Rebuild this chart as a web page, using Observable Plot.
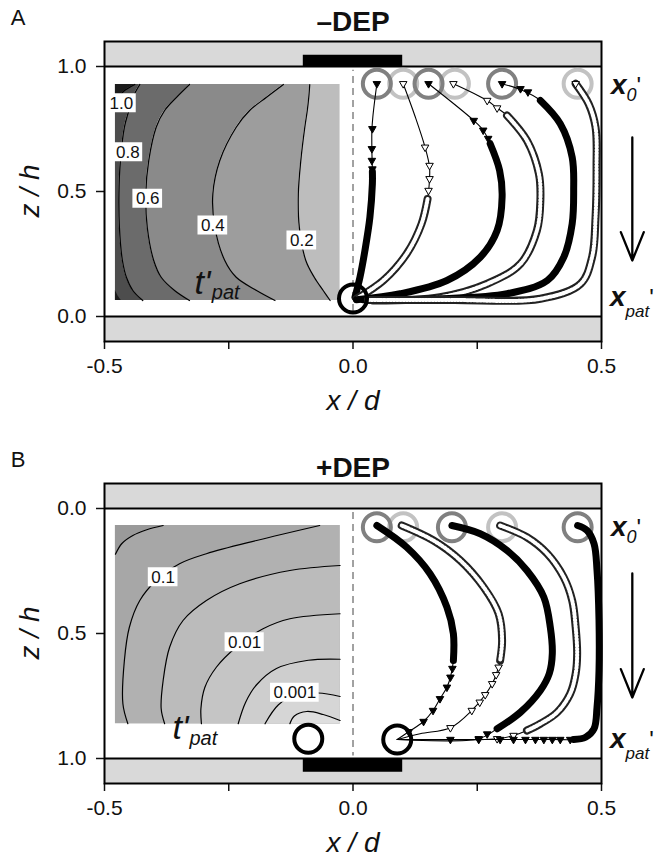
<!DOCTYPE html>
<html><head><meta charset="utf-8">
<script src="https://cdn.jsdelivr.net/npm/d3@7"></script>
<script src="https://cdn.jsdelivr.net/npm/@observablehq/plot@0.6"></script>
<style>
body{margin:0;background:#fff;font-family:"Liberation Sans",Arial,sans-serif;}
#page{position:relative;width:661px;height:859px;overflow:hidden;background:#fff;}
.lbl{position:absolute;line-height:1;white-space:nowrap;color:#111;z-index:5;}
</style></head><body><div id="page"></div>
<script>
// ===== axes =====
const xTicks = [-0.5, -0.25, 0, 0.25, 0.5];
const xTickLabels = ["-0.5", "", "0.0", "", "0.5"];
const zTicks = [0, 0.5, 1.0];
const zTickLabels = ["0.0", "0.5", "1.0"];
const wallZ = [[-0.1, 0], [1.0, 1.1]];
const wallLines = [0, 1];
const electrodeX = [-0.1, 0.1];
const electrodeZA = [1.0, 1.045];
const electrodeZB = [1.0, 1.055];

// ===== Panel A (−DEP): t'pat contour inset =====
const insetAX = [-0.478, -0.026];
const aRowsZ = [0.928, 0.877, 0.824, 0.757, 0.624, 0.491, 0.357, 0.224, 0.157, 0.104, 0.064];
const aC08 = [-0.429, -0.443, -0.451, -0.460, -0.468, -0.471, -0.470, -0.464, -0.456, -0.443, -0.423];
const aC06 = [-0.329, -0.355, -0.379, -0.396, -0.411, -0.417, -0.414, -0.401, -0.386, -0.359, -0.329];
const aC04 = [-0.140, -0.174, -0.208, -0.235, -0.268, -0.282, -0.278, -0.258, -0.235, -0.194, -0.157];
const aC02 = [-0.087, -0.089, -0.092, -0.097, -0.105, -0.110, -0.108, -0.095, -0.078, -0.060, -0.046];
const aC10Top = [[-0.439, 0.928], [-0.462, 0.900], [-0.474, 0.870], [-0.478, 0.850]];
const aC10Bot = [[-0.478, 0.104], [-0.472, 0.080], [-0.466, 0.064]];
const aLabelText = ["1.0", "0.8", "0.6", "0.4", "0.2"];
const aLabelX = [-0.466, -0.453, -0.413, -0.282, -0.103];
const aLabelZ = [0.853, 0.657, 0.471, 0.364, 0.304];
const aTpat = [-0.319, 0.092];
const aPat = [-0.284, 0.072];

// ===== Panel A trajectories: [x, z, dense] =====
const a1 = [[0.048,0.931,0],[0.040,0.80,0],[0.038,0.744,0],[0.038,0.664,0],[0.039,0.580,1],[0.039,0.531,1],[0.034,0.397,1],[0.024,0.264,1],[0.014,0.157,1],[0.004,0.077,1]];
const a2 = [[0.101,0.931,0],[0.125,0.80,0],[0.145,0.677,0],[0.154,0.597,0],[0.153,0.52,0],[0.150,0.47,1],[0.138,0.371,1],[0.108,0.251,1],[0.061,0.144,1],[0.007,0.071,1]];
const a3 = [[0.152,0.931,0],[0.243,0.784,0],[0.262,0.745,0],[0.276,0.691,1],[0.295,0.584,1],[0.300,0.477,1],[0.290,0.344,1],[0.256,0.237,1],[0.189,0.144,1],[0.095,0.091,1],[0.007,0.067,1]];
const a4 = [[0.202,0.931,0],[0.270,0.864,0],[0.290,0.834,0],[0.310,0.804,1],[0.350,0.704,1],[0.374,0.571,1],[0.377,0.464,1],[0.370,0.344,1],[0.337,0.211,1],[0.270,0.131,1],[0.175,0.077,1],[0.040,0.064,1]];
const a5 = [[0.300,0.931,0],[0.340,0.905,0],[0.377,0.864,1],[0.417,0.771,1],[0.441,0.637,1],[0.444,0.504,1],[0.441,0.371,1],[0.424,0.237,1],[0.391,0.144,1],[0.310,0.091,1],[0.175,0.071,1],[0.020,0.067,1]];
const a6 = [[0.448,0.931,1],[0.474,0.851,1],[0.488,0.757,1],[0.490,0.597,1],[0.488,0.397,1],[0.481,0.237,1],[0.458,0.131,1],[0.377,0.071,1],[0.200,0.066,1],[0.030,0.066,1]];
const a1m = [[0.048,0.931],[0.039,0.751],[0.038,0.671],[0.038,0.624],[0.039,0.590]];
const a2m = [[0.101,0.931],[0.145,0.677],[0.154,0.604],[0.154,0.551],[0.152,0.504]];
const a3m = [[0.152,0.931],[0.243,0.784],[0.262,0.745],[0.272,0.712]];
const a4m = [[0.202,0.931],[0.270,0.864],[0.290,0.834]];
const a5m = [[0.300,0.931],[0.337,0.911],[0.352,0.898]];
const a6m = [[0.448,0.931]];
const aOpen = [false, true, false, true, false, true];
const aStartDark = [0.048, 0.152, 0.300];
const aStartLight = [0.101, 0.205, 0.452];
const aStartZ = 0.931;
const aEnd = [[0.0, 0.072]];
const aArrow = [[0.562, 0.716, 0.224]];

// ===== Panel B (+DEP): t'pat contour inset (log levels) =====
const insetBX = [-0.478, -0.026];
const insetBZ = [0.068, 0.861];
const bC1 = [[-0.382,0.068],[-0.415,0.085],[-0.443,0.108],[-0.465,0.140],[-0.478,0.183]];
const bC2 = [[-0.067,0.068],[-0.194,0.128],[-0.295,0.181],[-0.349,0.221],[-0.396,0.288],[-0.429,0.368],[-0.450,0.475],[-0.460,0.608],[-0.463,0.781],[-0.453,0.861]];
const bC3 = [[-0.026,0.228],[-0.127,0.248],[-0.228,0.301],[-0.295,0.368],[-0.342,0.448],[-0.369,0.555],[-0.382,0.688],[-0.386,0.800],[-0.379,0.861]];
const bC4 = [[-0.026,0.421],[-0.127,0.441],[-0.181,0.481],[-0.235,0.555],[-0.275,0.635],[-0.298,0.715],[-0.306,0.800],[-0.305,0.861]];
const bC5 = [[-0.026,0.603],[-0.090,0.607],[-0.154,0.640],[-0.194,0.705],[-0.216,0.775],[-0.231,0.861]];
const bC6 = [[-0.026,0.752],[-0.070,0.738],[-0.115,0.745],[-0.150,0.785],[-0.177,0.861]];
const bC7 = [[-0.026,0.848],[-0.060,0.824],[-0.093,0.812],[-0.118,0.830],[-0.127,0.861]];
const bLabelText = ["0.1", "0.01", "0.001"];
const bLabelX = [-0.382, -0.218, -0.117];
const bLabelZ = [0.275, 0.535, 0.737];
const bTpat = [-0.363, 0.920];
const bPat = [-0.329, 0.944];

// ===== Panel B trajectories =====
const b1 = [[0.048,0.068,1],[0.108,0.155,1],[0.155,0.261,1],[0.189,0.395,1],[0.202,0.501,1],[0.202,0.608,1],[0.196,0.675,0],[0.189,0.715,0],[0.175,0.761,0],[0.161,0.808,0],[0.142,0.852,0],[0.112,0.893,0],[0.089,0.924,0]];
const b2 = [[0.098,0.068,1],[0.162,0.128,1],[0.216,0.208,1],[0.263,0.315,1],[0.293,0.421,1],[0.300,0.528,1],[0.296,0.608,1],[0.288,0.665,0],[0.280,0.701,0],[0.266,0.745,0],[0.239,0.808,0],[0.196,0.877,0],[0.135,0.901,0],[0.089,0.924,0]];
const b3 = [[0.199,0.068,1],[0.256,0.101,1],[0.310,0.168,1],[0.350,0.248,1],[0.384,0.355,1],[0.397,0.475,1],[0.401,0.581,1],[0.395,0.660,1],[0.377,0.728,1],[0.337,0.815,1],[0.290,0.881,1],[0.253,0.921,0],[0.089,0.924,0]];
const b4 = [[0.296,0.068,1],[0.350,0.115,1],[0.391,0.181,1],[0.424,0.275,1],[0.441,0.368,1],[0.448,0.475,1],[0.451,0.581,1],[0.448,0.661,1],[0.437,0.741,1],[0.411,0.815,1],[0.377,0.861,1],[0.350,0.888,1],[0.323,0.908,0],[0.290,0.921,0],[0.089,0.924,0]];
const b5 = [[0.452,0.068,1],[0.471,0.088,1],[0.485,0.141,1],[0.491,0.248,1],[0.495,0.448,1],[0.495,0.648,1],[0.491,0.795,1],[0.485,0.881,1],[0.468,0.915,1],[0.444,0.924,1],[0.401,0.924,0],[0.089,0.924,0]];
const b1m = [[0.200,0.640],[0.196,0.675],[0.189,0.715],[0.175,0.761],[0.161,0.808],[0.142,0.852],[0.112,0.893]];
const b2m = [[0.293,0.635],[0.288,0.665],[0.280,0.701],[0.266,0.745],[0.255,0.775],[0.239,0.808],[0.196,0.877]];
const b3m = [[0.270,0.902],[0.253,0.921]];
const b4m = [[0.323,0.908],[0.290,0.921]];
const b5m = [[0.437,0.924],[0.417,0.924],[0.401,0.924],[0.384,0.924],[0.367,0.924],[0.347,0.924],[0.323,0.924],[0.296,0.924],[0.253,0.924],[0.196,0.924]];
const bOpen = [false, true, false, true, false];
const bStartDark = [0.048, 0.199, 0.452];
const bStartLight = [0.101, 0.300];
const bStartZ = 0.075;
const bEnd = [[-0.090, 0.921], [0.089, 0.924]];
const bArrow = [[0.562, 0.26, 0.756]];

// ===== styling constants =====
const CURVE = "catmull-rom";
const LABEL_FS = 17;
const aGrays = ["#4d4d4d", "#6b6b6b", "#8a8a8a", "#9d9d9d", "#bdbdbd"];
const bGrays = ["#a7a7a7", "#9a9a9a", "#b1b1b1", "#bbbbbb", "#c5c5c5", "#cecece", "#d6d6d6", "#dedede"];
const px = p => p[0], pz = p => p[1];
const triDown = {draw(ctx, size) { const a = Math.sqrt(size) * 1.25; ctx.moveTo(-a/2, -a*0.29); ctx.lineTo(a/2, -a*0.29); ctx.lineTo(0, a*0.58); ctx.closePath(); }};
function halfW(s) { const digits = s.replace(/\./g, "").length; const dots = s.length - digits; return ((digits*0.556 + dots*0.278)*LABEL_FS + 6) / 2 / 496; }
const HH = 9.5 / 250;

function frameMarks(electrodeZ) {
  return [
    Plot.rect(wallZ, {x1: () => -0.5, x2: () => 0.5, y1: d => d[0], y2: d => d[1], fill: "#d9d9d9"}),
    Plot.rect([electrodeZ], {x1: () => electrodeX[0], x2: () => electrodeX[1], y1: d => d[0], y2: d => d[1], fill: "black"}),
    Plot.ruleY(wallLines, {y: d => d, x1: () => -0.5, x2: () => 0.5, stroke: "black", strokeWidth: 2})
  ];
}
function labelMarks(texts, xs, zs) {
  const L = texts.map((t, i) => ({t, x: xs[i], z: zs[i]}));
  return [
    Plot.rect(L, {x1: d => d.x - halfW(d.t), x2: d => d.x + halfW(d.t), y1: d => d.z - HH, y2: d => d.z + HH, fill: "white"}),
    Plot.text(L, {x: "x", y: "z", text: "t", fontSize: LABEL_FS, fill: "#111"})
  ];
}
function tpatMarks(t, p) {
  return [
    Plot.text([t], {x: px, y: pz, text: () => "t'", fontSize: 34, fontStyle: "italic", textAnchor: "start", lineAnchor: "bottom", fill: "#111"}),
    Plot.text([p], {x: px, y: pz, text: () => "pat", fontSize: 20, fontStyle: "italic", textAnchor: "start", lineAnchor: "bottom", fill: "#111"})
  ];
}
function trajMarks(trajs, marksList, openFlags) {
  const out = [];
  trajs.forEach((t, i) => {
    const open = openFlags[i];
    out.push(Plot.line(t, {x: px, y: pz, stroke: "black", strokeWidth: 1.1, curve: CURVE}));
    const dense = t.filter(p => p[2] === 1);
    if (dense.length > 1) {
      if (open) {
        out.push(Plot.line(dense, {x: px, y: pz, stroke: "#222", strokeWidth: 8, curve: CURVE}));
        out.push(Plot.line(dense, {x: px, y: pz, stroke: "white", strokeWidth: 4, strokeDasharray: "1.6,1.6", curve: CURVE}));
      } else {
        out.push(Plot.line(dense, {x: px, y: pz, stroke: "black", strokeWidth: 7, curve: CURVE}));
      }
    }
    out.push(Plot.dot(marksList[i], {x: px, y: pz, symbol: triDown, r: 3.4, fill: open ? "white" : "black", stroke: "black", strokeWidth: 1}));
  });
  return out;
}
function circleMarks(light, dark, z) {
  return [
    Plot.dot(light, {x: d => d, y: () => z, r: 14, stroke: "#c2c2c2", strokeWidth: 4, fill: "none"}),
    Plot.dot(dark, {x: d => d, y: () => z, r: 14, stroke: "#808080", strokeWidth: 4, fill: "none"})
  ];
}
function axisMarks() {
  return [
    Plot.axisX({ticks: xTicks, tickFormat: d => xTickLabels[xTicks.indexOf(d)], tickSize: 8, tickPadding: 9, fontSize: 21, label: null, strokeWidth: 1.5}),
    Plot.axisY({ticks: zTicks, tickFormat: d => zTickLabels[zTicks.indexOf(d)], tickSize: 8, tickPadding: 10, fontSize: 21, label: null, strokeWidth: 1.5}),
    Plot.frame({stroke: "black", strokeWidth: 2})
  ];
}
function makePlot(marks, reverse) {
  return Plot.plot({
    width: 661, height: 380,
    marginTop: 41, marginBottom: 39, marginLeft: 104, marginRight: 60,
    x: {domain: [-0.5, 0.5]},
    y: {domain: [-0.1, 1.1], reverse},
    style: {fontFamily: '"Liberation Sans", Arial, sans-serif', background: "transparent", overflow: "visible", color: "#111"},
    marks
  });
}

// ----- Panel A marks -----
const aRows = aRowsZ.map((z, i) => ({z, c08: aC08[i], c06: aC06[i], c04: aC04[i], c02: aC02[i]}));
const aBounds = [d => insetAX[0], "c08", "c06", "c04", "c02", d => insetAX[1]];
const aMarks = [
  ...frameMarks(electrodeZA),
  ...aGrays.map((g, i) => Plot.areaX(aRows, {y: "z", x1: aBounds[i], x2: aBounds[i+1], fill: g, curve: CURVE})),
  Plot.areaX(aC10Top, {y: pz, x1: () => insetAX[0], x2: px, fill: "#1c1c1c", curve: CURVE}),
  Plot.areaX(aC10Bot, {y: pz, x1: () => insetAX[0], x2: px, fill: "#1c1c1c", curve: CURVE}),
  ...["c08", "c06", "c04", "c02"].map(c => Plot.line(aRows, {x: c, y: "z", stroke: "black", strokeWidth: 1.2, curve: CURVE})),
  Plot.line(aC10Top, {x: px, y: pz, stroke: "black", strokeWidth: 1.2, curve: CURVE}),
  ...labelMarks(aLabelText, aLabelX, aLabelZ),
  ...tpatMarks(aTpat, aPat),
  Plot.ruleX([0], {y1: () => 0.02, y2: () => 0.985, stroke: "#444", strokeDasharray: "7,5", strokeWidth: 1}),
  ...circleMarks(aStartLight, aStartDark, aStartZ),
  ...trajMarks([a1, a2, a3, a4, a5, a6], [a1m, a2m, a3m, a4m, a5m, a6m], aOpen),
  Plot.dot(aEnd, {x: px, y: pz, r: 14, stroke: "black", strokeWidth: 4, fill: "none"}),
  Plot.arrow(aArrow, {x1: d => d[0], x2: d => d[0], y1: d => d[1], y2: d => d[2], stroke: "black", strokeWidth: 2.3, headLength: 20, headAngle: 44}),
  ...axisMarks()
];

// ----- Panel B marks -----
const bMarks = [
  ...frameMarks(electrodeZB),
  Plot.rect([insetBZ], {x1: () => insetBX[0], x2: () => insetBX[1], y1: d => d[0], y2: d => d[1], fill: bGrays[0]}),
  Plot.areaX(bC1, {y: pz, x1: () => insetBX[0], x2: px, fill: bGrays[1], curve: CURVE}),
  ...[bC2, bC3, bC4, bC5, bC6, bC7].map((c, i) => Plot.areaX(c, {y: pz, x1: px, x2: () => insetBX[1], fill: bGrays[i+2], curve: CURVE})),
  ...[bC1, bC2, bC3, bC4, bC5, bC6, bC7].map(c => Plot.line(c, {x: px, y: pz, stroke: "black", strokeWidth: 1.2, curve: CURVE})),
  ...labelMarks(bLabelText, bLabelX, bLabelZ),
  ...tpatMarks(bTpat, bPat),
  Plot.ruleX([0], {y1: () => 0.016, y2: () => 0.99, stroke: "#444", strokeDasharray: "7,5", strokeWidth: 1}),
  ...circleMarks(bStartLight, bStartDark, bStartZ),
  ...trajMarks([b1, b2, b3, b4, b5], [b1m, b2m, b3m, b4m, b5m], bOpen),
  Plot.dot(bEnd, {x: px, y: pz, r: 14, stroke: "black", strokeWidth: 4, fill: "none"}),
  Plot.arrow(bArrow, {x1: d => d[0], x2: d => d[0], y1: d => d[1], y2: d => d[2], stroke: "black", strokeWidth: 2.3, headLength: 20, headAngle: 44}),
  ...axisMarks()
];

const page = document.getElementById("page");
const plotA = makePlot(aMarks, false);
const plotB = makePlot(bMarks, true);
for (const [p, top] of [[plotA, 0], [plotB, 442]]) {
  p.style.position = "absolute"; p.style.left = "0px"; p.style.top = top + "px";
  page.append(p);
}

// ----- text annotations -----
function addText(html, left, top, css) {
  const d = document.createElement("div");
  d.className = "lbl";
  d.innerHTML = html;
  d.style.left = left + "px"; d.style.top = top + "px";
  Object.assign(d.style, css || {});
  page.append(d);
}
const center = {transform: "translate(-50%,-50%)"};
for (const [off, letter, title] of [[0, "A", "–DEP"], [442, "B", "+DEP"]]) {
  addText(letter, 18, 18 + off, {...center, fontSize: "22px"});
  addText(title, 353, 22 + off + (off ? 4 : 0), {...center, fontSize: "28px", fontWeight: "bold"});
  addText("x / d", 353, 401 + off, {...center, fontSize: "28px", fontStyle: "italic"});
  addText("z / h", 30, 191 + off, {transform: "translate(-50%,-50%) rotate(-90deg)", fontSize: "28px", fontStyle: "italic"});
  addText('<span style="font-weight:bold;font-style:italic;font-size:28px">x</span><span style="font-style:italic;font-size:18px;position:relative;top:7px">0</span><span style="font-size:24px">\'</span>', 611, 71 + off);
  addText('<span style="font-weight:bold;font-style:italic;font-size:28px">x</span><span style="font-style:italic;font-size:17px;position:relative;top:11px">pat</span><span style="font-size:24px">\'</span>', 610, 283 + off);
}
</script>
</body></html>
